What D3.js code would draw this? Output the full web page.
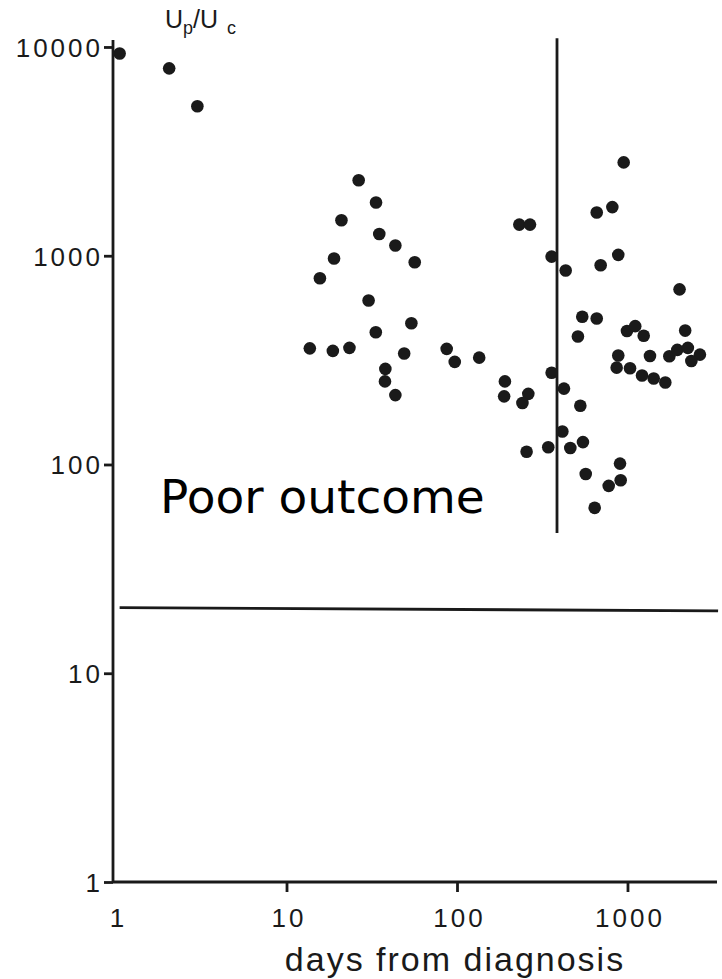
<!DOCTYPE html>
<html>
<head>
<meta charset="utf-8">
<script src="https://cdn.jsdelivr.net/npm/d3@7"></script>
<style>
  body { margin: 0; background: #fff; }
  .axis path, .axis line { stroke: #1a1a1a; stroke-width: 2.8px; }
  .axis text { font-family: "Liberation Sans", Arial, sans-serif; font-size: 26px; fill: #1a1a1a; letter-spacing: 3px; }
</style>
</head>
<body>
<div id="graphic"><svg class="chart" width="722" height="979"></svg></div>
<script>
// Days from diagnosis and the matching Up/Uc ratio, one entry per patient sample
var days = [
  1.05, 2.05, 3.0,
  26.5, 33.5, 21, 35, 43.5, 19, 56.5, 15.7, 30.3, 54, 33.4,
  13.7, 18.7, 23.4, 49, 87, 97, 135, 38, 37.8, 43.5,
  950, 815, 660, 232, 268, 359, 883, 434, 696, 2020,
  543, 660, 512, 993, 1110, 1245, 2180,
  883, 1355, 1760, 1960, 2260, 2660, 2370,
  864, 1035, 1217, 1425, 1667,
  359, 191, 189, 262, 242, 424, 529,
  415, 343, 462, 548, 256, 904, 569, 912, 776, 642
];
var ratios = [
  9300, 7900, 5200,
  2300, 1800, 1480, 1270, 1120, 970, 930, 780, 610, 475, 430,
  360, 350, 362, 340, 358, 310, 325, 287, 250, 215,
  2800, 1710, 1610, 1410, 1410, 990, 1010, 850, 900, 690,
  510, 500, 410, 436, 460, 414, 438,
  333, 331, 330, 354, 362, 336, 313,
  291, 289, 267, 258, 247,
  275, 250, 212, 218, 197, 231, 191,
  144, 121, 120, 128, 115, 101, 90, 84, 79, 62
];

var xTicks = [1, 10, 100, 1000];
var yTicks = [1, 10, 100, 1000, 10000];

// Cut-off lines: horizontal ratio threshold and vertical day marker
var cutoffRatio = [{ day: 1.05, ratio: 20.6 }, { day: 3400, ratio: 19.9 }];
var cutoffDay   = [{ day: 386, ratio: 47 }, { day: 386, ratio: 11000 }];

(function(d3) {
  var svg = d3.select(".chart");

  var x = d3.scaleLog().domain([0.96, 3350]).range([113, 717]);
  var y = d3.scaleLog().domain([1, 10800]).range([882, 40]);

  // Axes: ticks point outward, as in the scanned figure
  var xAxis = d3.axisBottom(x).tickValues(xTicks).tickFormat(d3.format("d"))
      .tickSize(10);
  var yAxis = d3.axisLeft(y).tickValues(yTicks).tickFormat(d3.format("d"))
      .tickSize(9).tickPadding(1);

  var gx = svg.append("g").attr("class", "axis")
      .attr("transform", "translate(0," + y(1) + ")")
      .call(xAxis);
  gx.select(".domain").attr("d", "M" + x(0.96) + ",0H" + x(3350));
  gx.selectAll(".tick text").attr("y", 36).attr("dy", "0.36em").attr("dx", 2);
  gx.selectAll(".tick").filter(function(d) { return d === 1; }).select("line").remove();

  var gy = svg.append("g").attr("class", "axis")
      .attr("transform", "translate(" + x(0.96) + ",0)")
      .call(yAxis);
  gy.select(".domain").attr("d", "M0," + y(10800) + "V" + y(1));
  gy.selectAll(".tick text").attr("dy", "0.36em");

  // Reference lines
  var line = d3.line()
      .x(function(d) { return x(d.day); })
      .y(function(d) { return y(d.ratio); });

  svg.append("path").datum(cutoffRatio)
      .attr("d", line).attr("fill", "none")
      .attr("stroke", "#1a1a1a").attr("stroke-width", 2.8);
  svg.append("path").datum(cutoffDay)
      .attr("d", line).attr("fill", "none")
      .attr("stroke", "#1a1a1a").attr("stroke-width", 2.8);

  // Points
  svg.append("g").selectAll("circle")
      .data(days)
    .enter().append("circle")
      .attr("cx", function(d) { return x(d); })
      .attr("cy", function(d, i) { return y(ratios[i]); })
      .attr("r", 6.3)
      .attr("fill", "#1a1a1a");

  // Labels
  var unit = svg.append("text")
      .attr("x", 165).attr("y", 28)
      .style("font-family", "Liberation Sans, Arial, sans-serif")
      .style("font-size", "25px").style("fill", "#1a1a1a");
  unit.append("tspan").text("U");
  unit.append("tspan").attr("dy", 6).style("font-size", "18px").text("p");
  unit.append("tspan").attr("dy", -6).text("/U");
  unit.append("tspan").attr("dx", 9).attr("dy", 6).style("font-size", "18px").text("c");

  svg.append("text")
      .attr("x", 455).attr("y", 971)
      .attr("text-anchor", "middle")
      .style("font-family", "Liberation Sans, Arial, sans-serif")
      .style("font-size", "34px").style("letter-spacing", "2px")
      .style("fill", "#1a1a1a")
      .text("days from diagnosis");

  svg.append("text")
      .attr("x", 160).attr("y", 513)
      .style("font-family", "DejaVu Sans, Verdana, sans-serif")
      .style("font-size", "47px").style("fill", "#000")
      .text("Poor outcome");
})(d3);
</script>
</body>
</html>
